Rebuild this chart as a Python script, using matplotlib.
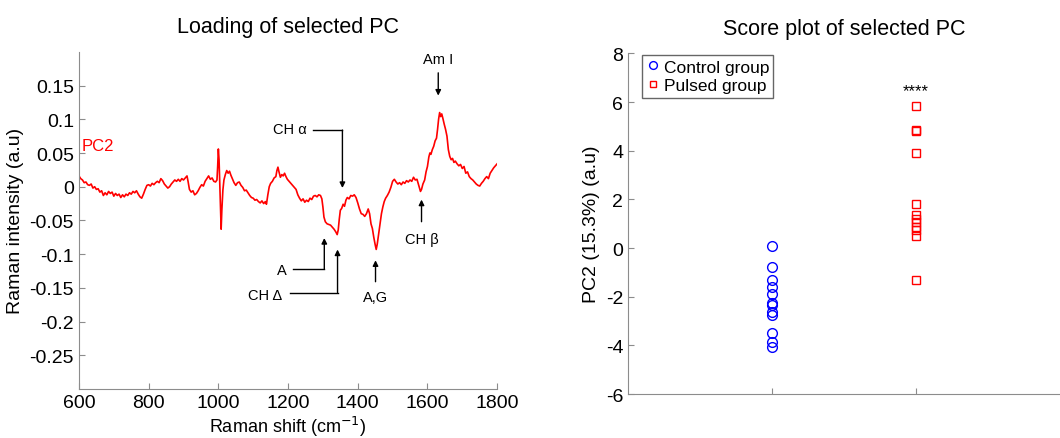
import numpy as np
import matplotlib
matplotlib.use("Agg")
import matplotlib.pyplot as plt

plt.rcParams["font.family"] = ["Liberation Sans", "DejaVu Sans"]
plt.rcParams["axes.unicode_minus"] = False

# PC2 loading spectrum (Raman shift, intensity)
raman_shift = [
    600, 605, 610, 615, 620, 625, 630, 635, 640, 645, 650, 655, 660, 665, 670, 675,
    680, 685, 690, 695, 700, 705, 710, 715, 720, 725, 730, 735, 740, 745, 750, 755,
    760, 765, 770, 775, 780, 785, 790, 795, 800, 805, 810, 815, 820, 825, 830, 835,
    840, 845, 850, 855, 860, 865, 870, 875, 880, 885, 890, 895, 900, 905, 910, 913,
    917, 922, 927, 932, 937, 942, 947, 952, 957, 962, 967, 972, 977, 982, 987, 992,
    996, 998, 1000, 1002, 1004, 1006, 1008, 1010, 1013, 1016, 1020, 1024, 1028, 1032, 1036, 1040,
    1045, 1050, 1055, 1060, 1065, 1070, 1075, 1080, 1085, 1090, 1095, 1100, 1105, 1110, 1115, 1120,
    1125, 1130, 1135, 1138, 1142, 1146, 1150, 1155, 1160, 1165, 1168, 1171, 1174, 1178, 1182, 1186,
    1190, 1194, 1198, 1203, 1208, 1213, 1218, 1223, 1228, 1233, 1238, 1243, 1248, 1253, 1258, 1263,
    1268, 1273, 1278, 1283, 1288, 1293, 1297, 1300, 1303, 1307, 1312, 1317, 1322, 1327, 1332, 1337,
    1341, 1344, 1347, 1350, 1354, 1358, 1362, 1366, 1370, 1375, 1380, 1385, 1390, 1395, 1400, 1405,
    1410, 1415, 1420, 1425, 1430, 1434, 1438, 1442, 1446, 1450, 1453, 1456, 1460, 1464, 1468, 1472,
    1476, 1480, 1485, 1490, 1495, 1500, 1505, 1510, 1515, 1520, 1525, 1530, 1535, 1540, 1545, 1550,
    1555, 1560, 1565, 1570, 1575, 1580, 1583, 1587, 1592, 1596, 1600, 1604, 1607, 1610, 1614, 1618,
    1622, 1626, 1629, 1632, 1635, 1638, 1641, 1644, 1648, 1652, 1656, 1660, 1664, 1668, 1672, 1676,
    1680, 1685, 1690, 1695, 1700, 1705, 1710, 1715, 1720, 1725, 1730, 1735, 1740, 1745, 1750, 1755,
    1760, 1765, 1770, 1775, 1780, 1785, 1790, 1795, 1800,
]
pc2_loading = [
    0.016, 0.012, 0.010, 0.006, 0.007, 0.003, 0.002, 0.004, -0.002, 0.000, -0.004, -0.003, -0.008, -0.006, -0.013, -0.009,
    -0.012, -0.007, -0.010, -0.008, -0.014, -0.010, -0.013, -0.011, -0.016, -0.012, -0.015, -0.011, -0.013, -0.009, -0.011, -0.007,
    -0.009, -0.006, -0.011, -0.015, -0.017, -0.011, -0.004, 0.002, 0.003, 0.001, 0.005, 0.003, 0.006, 0.008, 0.006, 0.012,
    0.009, 0.004, 0.001, -0.002, 0.000, 0.004, 0.007, 0.010, 0.008, 0.011, 0.008, 0.012, 0.010, 0.013, 0.016, 0.008,
    -0.004, -0.008, -0.006, -0.012, -0.010, -0.006, -0.001, 0.003, 0.001, 0.008, 0.012, 0.016, 0.011, 0.013, 0.008, 0.007,
    0.010, 0.030, 0.056, 0.040, 0.005, -0.030, -0.063, -0.035, -0.005, 0.010, 0.018, 0.024, 0.020, 0.023, 0.017, 0.012,
    0.006, 0.002, 0.006, 0.007, 0.002, -0.001, -0.006, -0.005, -0.009, -0.013, -0.016, -0.017, -0.020, -0.019, -0.022, -0.024,
    -0.021, -0.025, -0.022, -0.026, -0.012, 0.000, 0.005, 0.008, 0.013, 0.015, 0.024, 0.029, 0.022, 0.014, 0.018, 0.016,
    0.020, 0.015, 0.011, 0.008, 0.005, 0.002, -0.001, -0.004, -0.012, -0.017, -0.021, -0.018, -0.023, -0.020, -0.022, -0.017,
    -0.019, -0.014, -0.013, -0.015, -0.012, -0.013, -0.018, -0.030, -0.045, -0.052, -0.055, -0.056, -0.057, -0.060, -0.063, -0.067,
    -0.071, -0.064, -0.048, -0.035, -0.032, -0.026, -0.029, -0.020, -0.016, -0.018, -0.013, -0.014, -0.012, -0.016, -0.024, -0.033,
    -0.040, -0.041, -0.044, -0.040, -0.033, -0.040, -0.055, -0.062, -0.075, -0.086, -0.093, -0.085, -0.070, -0.055, -0.040, -0.030,
    -0.022, -0.017, -0.013, -0.008, -0.001, 0.008, 0.011, 0.007, 0.004, 0.006, 0.003, 0.007, 0.005, 0.009, 0.007, 0.010,
    0.008, 0.014, 0.010, 0.011, 0.002, -0.007, -0.004, 0.004, 0.010, 0.022, 0.030, 0.044, 0.050, 0.048, 0.055, 0.060,
    0.068, 0.072, 0.085, 0.100, 0.110, 0.104, 0.108, 0.102, 0.093, 0.085, 0.075, 0.055, 0.045, 0.040, 0.042, 0.036,
    0.038, 0.034, 0.031, 0.033, 0.027, 0.030, 0.020, 0.022, 0.015, 0.012, 0.010, 0.007, 0.004, 0.002, 0.001, 0.005,
    0.008, 0.012, 0.015, 0.012, 0.020, 0.024, 0.028, 0.031, 0.034,
]

# PC2 scores of both groups
control_scores = [0.1, -0.8, -1.3, -1.6, -1.9, -2.25, -2.35, -2.65, -2.75, -3.5, -3.85, -4.05]
pulsed_scores = [5.82, 4.87, 4.79, 3.91, 1.79, 1.34, 1.2, 1.06, 0.86, 0.72, 0.51, -1.31]

# band annotations: label, text xy, line start, elbow, arrow tip
peak_labels = ["Am I", "CH α", "A", "CH Δ", "A,G", "CH β"]
label_xy = [(1631, 0.190), (1205, 0.085), (1181, -0.123), (1133, -0.160), (1451, -0.163), (1583, -0.077)]
line_start = [(1631, 0.173), (1272, 0.084), (1215, -0.122), (1205, -0.157), (1451, -0.145), (1583, -0.056)]
line_corner = [None, (1356, 0.084), (1304, -0.122), (1342, -0.157), None, None]
arrow_tip = [(1631, 0.131), (1356, -0.006), (1304, -0.072), (1342, -0.089), (1451, -0.105), (1583, -0.015)]

spine_grey = "#8c8c8c"

fig = plt.figure(figsize=(10.6, 4.39), dpi=100)

# LOADING PLOT
ax1 = fig.add_axes([0.0745, 0.1116, 0.3945, 0.768])
ax1.plot(raman_shift, pc2_loading, color="red", lw=1.2)
ax1.set_xlim(600, 1800)
ax1.set_ylim(-0.3, 0.2)
ax1.set_xticks([600, 800, 1000, 1200, 1400, 1600, 1800])
yt = [-0.25, -0.2, -0.15, -0.1, -0.05, 0, 0.05, 0.1, 0.15]
ax1.set_yticks(yt)
ax1.set_yticklabels(["%g" % v for v in yt])
ax1.set_xlabel("Raman shift (cm$^{\\mathsf{-1}}$)", fontsize=13, labelpad=2)
ax1.set_ylabel("Raman intensity (a.u)", fontsize=14, labelpad=4)
ax1.set_title("Loading of selected PC", fontsize=15.5, pad=14)
ax1.text(607, 0.061, "PC2", color="red", fontsize=12, va="center", ha="left")

for i in range(len(peak_labels)):
    tx, ty = label_xy[i]
    ax1.text(tx, ty, peak_labels[i], fontsize=10.5, ha="center", va="center")
    if line_corner[i] is None:
        ax1.annotate("", xy=arrow_tip[i], xytext=line_start[i],
                     arrowprops=dict(arrowstyle="-|>", color="black", lw=1, mutation_scale=8))
    else:
        sx, sy = line_start[i]
        cx, cy = line_corner[i]
        ax1.plot([sx, cx], [sy, cy], color="black", lw=1)
        ax1.annotate("", xy=arrow_tip[i], xytext=line_corner[i],
                     arrowprops=dict(arrowstyle="-|>", color="black", lw=1, mutation_scale=8,
                                     shrinkA=0))

# SCORE PLOT
ax2 = fig.add_axes([0.5925, 0.1002, 0.4075, 0.776])
ax2.plot(np.ones(len(control_scores)), control_scores, "o", mfc="none", mec="blue",
         ms=7, mew=1, label="Control group")
ax2.plot(np.full(len(pulsed_scores), 2), pulsed_scores, "s", mfc="none", mec="red",
         ms=6, mew=1, label="Pulsed group")
ax2.text(2, 6.45, "****", fontsize=12, ha="center", va="center")
ax2.set_xlim(0, 3)
ax2.set_ylim(-6, 8)
ax2.set_xticks([1, 2])
ax2.set_xticklabels([])
ax2.set_yticks(range(-6, 9, 2))
ax2.set_ylabel("PC2 (15.3%) (a.u)", fontsize=14, labelpad=4)
ax2.set_title("Score plot of selected PC", fontsize=15.5, pad=14)
leg = ax2.legend(loc="upper left", bbox_to_anchor=(0.032, 0.995), fontsize=12.5, frameon=True,
                 fancybox=False, handletextpad=0.2, handlelength=0.8, borderpad=0.25,
                 borderaxespad=0, labelspacing=0.2, markerscale=0.8)
leg.get_frame().set_edgecolor("#404040")
leg.get_frame().set_linewidth(1)

for ax in (ax1, ax2):
    ax.spines["top"].set_visible(False)
    ax.spines["right"].set_visible(False)
    ax.spines["left"].set_color(spine_grey)
    ax.spines["bottom"].set_color(spine_grey)
    ax.tick_params(direction="in", color=spine_grey, labelsize=14, length=4)

fig.savefig("out.png", dpi=100)
